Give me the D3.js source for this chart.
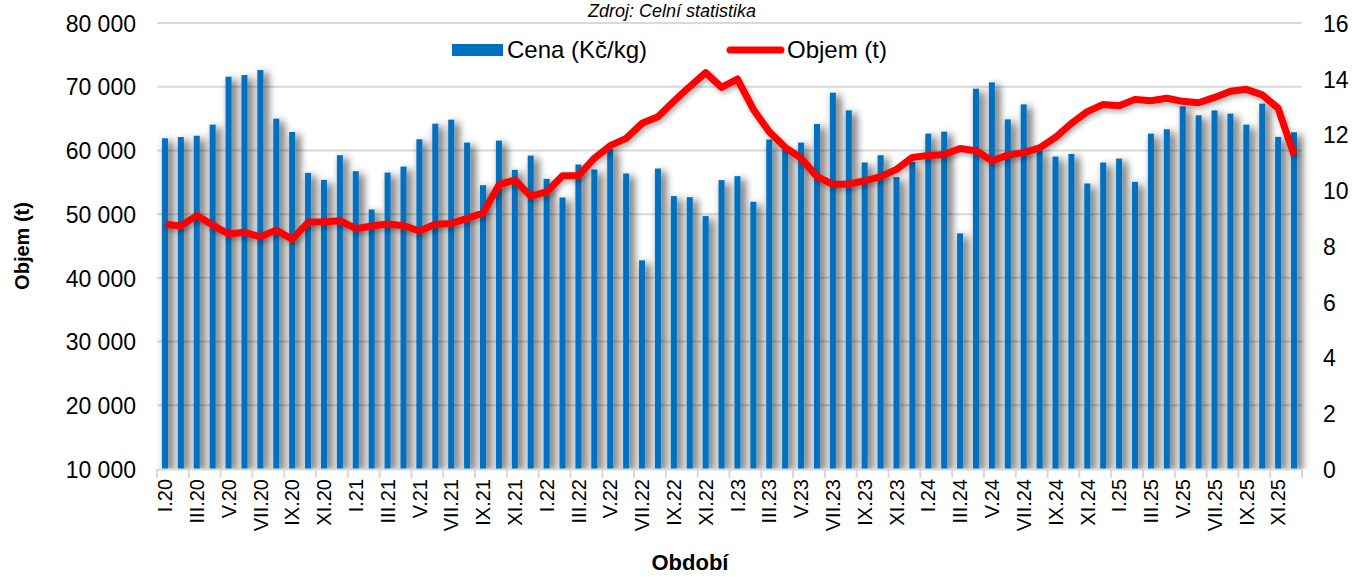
<!DOCTYPE html>
<html>
<head>
<meta charset="utf-8">
<script src="https://cdn.jsdelivr.net/npm/d3@7"></script>
<style>
  body { margin: 0; background: #fff; }
  text { font-family: Arial, "Liberation Sans", sans-serif; fill: #000; }
</style>
</head>
<body>
<svg></svg>
<script>
let romans = ['I', 'II', 'III', 'IV', 'V', 'VI', 'VII', 'VIII', 'IX', 'X', 'XI', 'XII']
let years = ['20', '21', '22', '23', '24', '25']
let months = years.flatMap(y => romans.map(r => r + '.' + y))

// Cena (Kč/kg) - bars, left axis
let cena = [
  61900, 62100, 62300, 64050, 71570, 71830, 72610, 64990, 62900, 56480, 55380, 59250,
  56740, 50740, 56530, 57470, 61750, 64200, 64830, 61230, 54550, 61540, 56950, 59190,
  55540, 52620, 57790, 57000, 60200, 56380, 42750, 57160, 52830, 52670, 49700, 55330,
  55960, 51940, 61700, 60300, 61230, 64150, 69060, 66290, 58100, 59250, 55800, 58200,
  62640, 62950, 46980, 69690, 70680, 64880, 67230, 60000, 59040, 59460, 54810, 58100,
  58720, 55070, 62640, 63320, 66920, 65510, 66290, 65770, 64050, 67340, 62120, 62850
]

// Objem (t) - line, right axis
let objem = [
  8.78, 8.72, 9.09, 8.75, 8.43, 8.49, 8.33, 8.57, 8.24, 8.85, 8.87, 8.91,
  8.62, 8.72, 8.79, 8.73, 8.54, 8.78, 8.81, 8.99, 9.18, 10.19, 10.37, 9.79,
  9.94, 10.52, 10.52, 11.15, 11.60, 11.86, 12.40, 12.64, 13.19, 13.72, 14.22, 13.69,
  13.99, 12.90, 12.10, 11.54, 11.15, 10.49, 10.21, 10.22, 10.34, 10.49, 10.75, 11.18,
  11.25, 11.28, 11.50, 11.42, 11.06, 11.26, 11.35, 11.52, 11.90, 12.40, 12.82, 13.08,
  13.03, 13.26, 13.21, 13.30, 13.19, 13.14, 13.33, 13.55, 13.62, 13.42, 12.94, 11.26
]

let leftTicks = [10000, 20000, 30000, 40000, 50000, 60000, 70000, 80000]
let rightTicks = [0, 2, 4, 6, 8, 10, 12, 14, 16]

let width = 1352
let height = 577
let plotLeft = 157
let plotRight = 1302
let plotTop = 23
let plotBottom = 469

let svg = d3.select('svg').attr('width', width).attr('height', height)

let defs = svg.append('defs')
// soft grey shadow behind each bar
let sh = defs.append('filter').attr('id', 'shadow')
  .attr('filterUnits', 'userSpaceOnUse')
  .attr('x', 140).attr('y', 0).attr('width', 1200).attr('height', plotBottom)
sh.append('feGaussianBlur').attr('in', 'SourceAlpha').attr('stdDeviation', 4).attr('result', 'b')
sh.append('feOffset').attr('in', 'b').attr('dx', 4).attr('dy', 3).attr('result', 'o')
sh.append('feComponentTransfer').attr('in', 'o').attr('result', 'c')
  .append('feFuncA').attr('type', 'linear').attr('slope', 0.8)
let shm = sh.append('feMerge')
shm.append('feMergeNode').attr('in', 'c')
shm.append('feMergeNode').attr('in', 'SourceGraphic')

let lsh = defs.append('filter').attr('id', 'lshadow')
  .attr('filterUnits', 'userSpaceOnUse')
  .attr('x', 140).attr('y', 0).attr('width', 1200).attr('height', plotBottom)
lsh.append('feGaussianBlur').attr('in', 'SourceAlpha').attr('stdDeviation', 2.5).attr('result', 'b')
lsh.append('feOffset').attr('in', 'b').attr('dx', 2).attr('dy', 3).attr('result', 'o')
lsh.append('feComponentTransfer').attr('in', 'o').attr('result', 'c')
  .append('feFuncA').attr('type', 'linear').attr('slope', 0.3)
let lshm = lsh.append('feMerge')
lshm.append('feMergeNode').attr('in', 'c')
lshm.append('feMergeNode').attr('in', 'SourceGraphic')

let xScale = d3.scaleBand().domain(months).range([plotLeft, plotRight])
let yLeft = d3.scaleLinear().domain([10000, 80000]).range([plotBottom, plotTop])
let yRight = d3.scaleLinear().domain([0, 16]).range([plotBottom, plotTop])

let fmt = d => d3.format(',')(d).replace(/,/g, '\u00a0')

// gridlines
svg.append('g')
   .selectAll('line')
   .data(leftTicks.slice(1))
   .enter()
   .append('line')
   .attr('x1', plotLeft).attr('x2', plotRight)
   .attr('y1', d => yLeft(d)).attr('y2', d => yLeft(d))
   .attr('stroke', '#d9d9d9').attr('stroke-width', 2)

// bars
let bw = 6
svg.append('g')
   .attr('filter', 'url(#shadow)')
   .selectAll('rect')
   .data(cena)
   .enter()
   .append('rect')
   .attr('x', (d, i) => xScale(months[i]) + xScale.bandwidth() / 2 - bw / 2)
   .attr('y', d => yLeft(d))
   .attr('width', bw)
   .attr('height', d => plotBottom - yLeft(d))
   .attr('fill', '#0070c0')

// x axis line + labels
let xAxis = d3.axisBottom(xScale)
  .tickValues(months.filter((m, i) => i % 2 === 0))
  .tickSize(0)
  .tickPadding(0)
let gx = svg.append('g')
   .attr('id', 'x-axis')
   .attr('transform', 'translate(0, ' + plotBottom + ')')
   .call(xAxis)
gx.select('.domain').attr('stroke', '#d9d9d9').attr('stroke-width', 2)
gx.selectAll('.tick line').remove()
gx.selectAll('text')
  .attr('font-size', 20)
  .attr('text-anchor', 'end')
  .attr('transform', 'rotate(-90)')
  .attr('x', -10)
  .attr('y', 0)
  .attr('dy', '0.36em')
  .attr('fill', '#000')

// tick marks between every second category
svg.append('g')
   .selectAll('line')
   .data(d3.range(0, 73, 2))
   .enter()
   .append('line')
   .attr('x1', d => plotLeft + d * xScale.bandwidth())
   .attr('x2', d => plotLeft + d * xScale.bandwidth())
   .attr('y1', plotBottom).attr('y2', plotBottom + 9)
   .attr('stroke', '#d9d9d9').attr('stroke-width', 2)

// line
let line = d3.line()
  .x((d, i) => xScale(months[i]) + xScale.bandwidth() / 2)
  .y(d => yRight(d))
svg.append('path')
   .datum(objem)
   .attr('d', line)
   .attr('fill', 'none')
   .attr('stroke', '#ff0000')
   .attr('stroke-width', 7)
   .attr('stroke-linejoin', 'round')
   .attr('filter', 'url(#lshadow)')

// left axis
let yAxisL = d3.axisLeft(yLeft).tickValues(leftTicks).tickSize(0).tickPadding(0).tickFormat(fmt)
let gl = svg.append('g').attr('transform', 'translate(136, 0)').call(yAxisL)
gl.select('.domain').remove()
gl.selectAll('text').attr('font-size', 23).attr('fill', '#000').attr('dy', '0.36em')

// right axis
let yAxisR = d3.axisRight(yRight).tickValues(rightTicks).tickSize(0).tickPadding(0)
let gr = svg.append('g').attr('transform', 'translate(1323, 0)').call(yAxisR)
gr.select('.domain').remove()
gr.selectAll('text').attr('font-size', 23).attr('fill', '#000').attr('dy', '0.36em')

// titles
svg.append('text')
   .attr('x', 672).attr('y', 17)
   .attr('text-anchor', 'middle')
   .attr('font-size', 18)
   .attr('font-style', 'italic')
   .text('Zdroj: Celní statistika')

svg.append('text')
   .attr('transform', 'translate(29, 246) rotate(-90)')
   .attr('text-anchor', 'middle')
   .attr('font-size', 20)
   .attr('font-weight', 'bold')
   .text('Objem (t)')

svg.append('text')
   .attr('x', 690).attr('y', 570)
   .attr('text-anchor', 'middle')
   .attr('font-size', 22)
   .attr('font-weight', 'bold')
   .text('Období')

// legend
let lg = svg.append('g')
lg.append('rect').attr('x', 452).attr('y', 44).attr('width', 51).attr('height', 12).attr('fill', '#0070c0')
lg.append('text').attr('x', 507).attr('y', 58).attr('font-size', 24).text('Cena (Kč/kg)')
lg.append('line').attr('x1', 730).attr('x2', 781).attr('y1', 50).attr('y2', 50)
  .attr('stroke', '#ff0000').attr('stroke-width', 7).attr('stroke-linecap', 'round')
lg.append('text').attr('x', 787).attr('y', 58).attr('font-size', 24).text('Objem (t)')
</script>
</body>
</html>
